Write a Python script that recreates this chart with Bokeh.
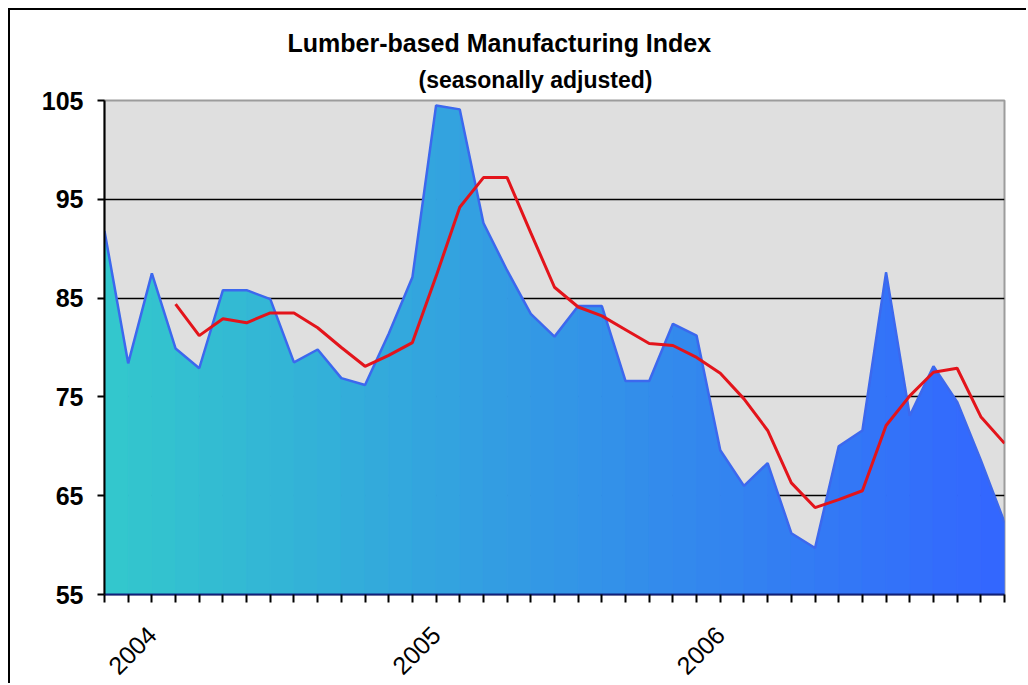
import math
from bokeh.plotting import figure
from bokeh.models import Range1d, FixedTicker, Title
from bokeh.embed import file_html
from bokeh.resources import INLINE

# monthly index positions: Nov 2003 .. Jan 2007
months = list(range(39))

index_values = [91.8, 78.4, 87.5, 79.9, 77.9, 85.8, 85.8, 84.9, 78.5, 79.8,
                76.9, 76.2, 81.4, 87.1, 104.5, 104.1, 92.6, 87.8, 83.4, 81.1,
                84.2, 84.2, 76.6, 76.6, 82.4, 81.2, 69.6, 66.0, 68.3, 61.2,
                59.7, 70.0, 71.6, 87.6, 73.1, 78.1, 74.5, 68.6, 62.3]

nan = float("nan")
moving_avg = [nan, nan, nan, 84.4, 81.2, 82.9, 82.5, 83.5, 83.5, 82.0,
              80.0, 78.1, 79.2, 80.5, 87.2, 94.2, 97.2, 97.2, 91.6, 86.1,
              84.1, 83.2, 81.8, 80.4, 80.2, 79.0, 77.4, 74.8, 71.6, 66.3,
              63.8, 64.6, 65.5, 72.1, 75.1, 77.5, 77.9, 73.0, 70.3]

year_tick_pos = [2, 14, 26]
year_labels = ["2004", "2005", "2006"]
y_ticks = [55, 65, 75, 85, 95, 105]
grid_ticks = [65, 75, 85, 95]

FONT = "Liberation Sans"

p = figure(width=1018, height=675, output_backend="svg", toolbar_location=None,
           x_range=Range1d(months[0], months[-1]),
           y_range=Range1d(y_ticks[0], y_ticks[-1]),
           min_border_left=94, min_border_right=24,
           min_border_top=90, min_border_bottom=88)
p.styles = {"margin-left": "8px", "margin-top": "8px",
            "border-left": "2px solid black", "border-top": "2px solid black"}

p.title.text = "Lumber-based Manufacturing Index"
p.title.text_font = FONT
p.title.text_font_size = "25px"
p.title.text_font_style = "bold"
p.title.text_color = "black"
p.title.align = "left"
p.title.offset = 183
p.title.standoff = 0

sub = Title(text="(seasonally adjusted)", text_font=FONT, text_font_size="23px",
            text_font_style="bold", text_color="black", align="left",
            offset=314, standoff=16)
p.add_layout(sub, "above")

p.background_fill_color = "#DFDFDF"
p.border_fill_color = "white"
p.outline_line_color = "#9C9C9C"
p.outline_line_width = 2

# gradient area: one patch per segment
c0 = (51, 200, 204)
c1 = (51, 102, 255)
n = len(months) - 1
xs, ys, cols = [], [], []
for i in range(n):
    xs.append([months[i], months[i + 1], months[i + 1], months[i]])
    ys.append([index_values[i], index_values[i + 1], y_ticks[0], y_ticks[0]])
    t = (i + 0.5) / n
    c = tuple(int(round(c0[k] + (c1[k] - c0[k]) * t)) for k in range(3))
    cols.append("#%02x%02x%02x" % c)
p.patches(xs, ys, fill_color=cols, line_color=cols, line_width=1)

p.line(months, index_values, line_color="#3C68EE", line_width=2.5)
p.line(months, moving_avg, line_color="#E3141B", line_width=3)

# grid
p.xgrid.visible = False
p.ygrid.ticker = FixedTicker(ticks=grid_ticks)
p.ygrid.grid_line_color = "black"
p.ygrid.grid_line_width = 1.5

# y axis
p.yaxis.ticker = FixedTicker(ticks=y_ticks)
p.yaxis.axis_line_color = "black"
p.yaxis.axis_line_width = 2
p.yaxis.major_tick_line_color = "black"
p.yaxis.major_tick_line_width = 2
p.yaxis.major_tick_out = 7
p.yaxis.major_tick_in = 0
p.yaxis.minor_tick_line_color = None
p.yaxis.major_label_text_font = FONT
p.yaxis.major_label_text_font_size = "25px"
p.yaxis.major_label_text_font_style = "bold"
p.yaxis.major_label_text_color = "black"
p.yaxis.major_label_standoff = 14

# x axis
p.xaxis.ticker = FixedTicker(ticks=months)
overrides = {m: "" for m in months}
for pos, lab in zip(year_tick_pos, year_labels):
    overrides[pos] = lab
p.xaxis.major_label_overrides = overrides
p.xaxis.major_label_orientation = math.pi / 4
p.xaxis.axis_line_color = "#10207A"
p.xaxis.axis_line_width = 2
p.xaxis.major_tick_line_color = "black"
p.xaxis.major_tick_line_width = 2
p.xaxis.major_tick_out = 8
p.xaxis.major_tick_in = 0
p.xaxis.minor_tick_line_color = None
p.xaxis.major_label_text_font = FONT
p.xaxis.major_label_text_font_size = "25px"
p.xaxis.major_label_text_color = "black"
p.xaxis.major_label_standoff = 28

open("out.html", "w").write(file_html(p, INLINE))
